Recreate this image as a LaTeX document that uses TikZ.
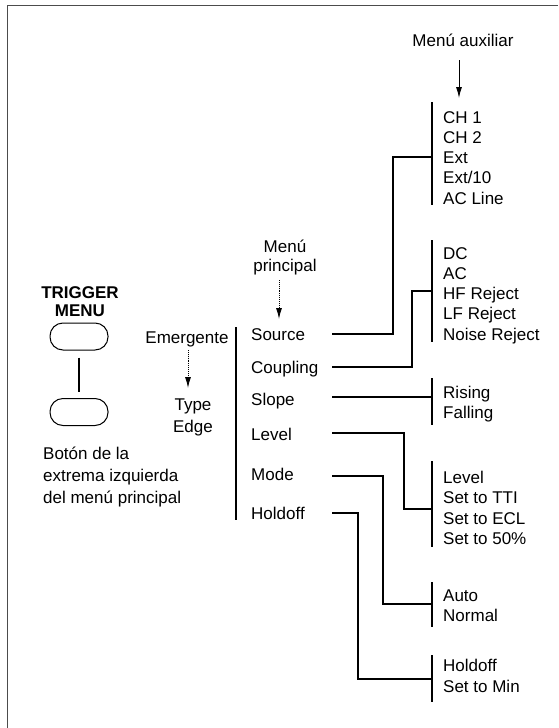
\documentclass[tikz,border=0pt]{standalone}
\usepackage{fontspec}
\setmainfont{Liberation Sans}
\usetikzlibrary{arrows.meta}
\begin{document}
\begin{tikzpicture}[x=1pt,y=-1pt,
  txt/.style={font=\fontsize{17}{20}\selectfont, inner sep=0pt, anchor=base west},
  ctxt/.style={font=\fontsize{17}{20}\selectfont, inner sep=0pt, anchor=base},
  btxt/.style={font=\fontsize{17}{18}\bfseries\selectfont, inner sep=0pt, anchor=base},
  bar/.style={line width=2pt},
  conn/.style={line width=2pt, line join=miter},
  ptr/.style={line width=0.9pt, -{Latex[length=11pt,width=6pt]}},
  dptr/.style={ptr, densely dotted},
  btn/.style={draw, line width=1pt, rounded corners=13pt, minimum width=58pt, minimum height=27pt, inner sep=0pt},
  frame/.style={line width=0.8pt, black!70}
]
\useasboundingbox (0,0) rectangle (558,728);
\draw[frame] (558,5) -- (7,5) -- (7,728);

% left: trigger menu button
\node[btxt] (trg) at (80,298) {TRIGGER};
\node[btxt] (mnu) at (80,316) {MENU};
\node[btn] (b1) at (79,336.5) {};
\node[btn] (b2) at (79,412) {};
\draw[line width=1.6pt, shorten <=7pt, shorten >=6pt] (b1.south) -- (b2.north);
\node[txt] (bt1) at (43,459) {Botón de la};
\node[txt] (bt2) at (43,481) {extrema izquierda};
\node[txt] (bt3) at (43,503) {del menú principal};

% emergente
\node[ctxt] (em) at (187,343) {Emergente};
\node[ctxt] (ty) at (193,410) {Type};
\node[ctxt] (ed) at (193,432) {Edge};
\coordinate (emA) at (188,350);
\coordinate (emB) at (188,388);
\draw[dptr] (emA) -- (emB);

% main menu
\node[ctxt] (mp1) at (285,252) {Menú};
\node[ctxt] (mp2) at (285,271) {principal};
\coordinate (mpA) at (279,280);
\coordinate (mpB) at (279,319);
\draw[dptr] (mpA) -- (mpB);
\coordinate (mbT) at (236,327);
\coordinate (mbB) at (236,520);
\draw[bar] (mbT) -- (mbB);
\node[txt] (src) at (251,340) {Source};
\node[txt] (cpl) at (251,373) {Coupling};
\node[txt] (slp) at (251,405) {Slope};
\node[txt] (lvl) at (251,440) {Level};
\node[txt] (mde) at (251,480) {Mode};
\node[txt] (hld) at (251,519) {Holdoff};

% auxiliary label
\node[ctxt] (ma) at (463,46) {Menú auxiliar};
\coordinate (maA) at (459,60);
\coordinate (maB) at (459,98);
\draw[ptr] (maA) -- (maB);

% aux menu A (source)
\draw[bar] (432,102) -- (432,205);
\node[txt] (a1) at (443,123) {CH 1};
\node[txt] (a2) at (443,143.25) {CH 2};
\node[txt] (a3) at (443,163.5) {Ext};
\node[txt] (a4) at (443,183.75) {Ext/10};
\node[txt] (a5) at (443,204) {AC Line};

% aux menu B (coupling)
\draw[bar] (432,240) -- (432,342);
\node[txt] (c1) at (443,259) {DC};
\node[txt] (c2) at (443,279.25) {AC};
\node[txt] (c3) at (443,299.5) {HF Reject};
\node[txt] (c4) at (443,319.75) {LF Reject};
\node[txt] (c5) at (443,340) {Noise Reject};

% aux menu C (slope)
\draw[bar] (432,378) -- (432,425);
\node[txt] (s1) at (443,398) {Rising};
\node[txt] (s2) at (443,418.5) {Falling};

% aux menu D (level)
\draw[bar] (432,461) -- (432,547);
\node[txt] (l1) at (443,483) {Level};
\node[txt] (l2) at (443,503.5) {Set to TTI};
\node[txt] (l3) at (443,524) {Set to ECL};
\node[txt] (l4) at (443,544.5) {Set to 50\%};

% aux menu E (mode)
\draw[bar] (432,582) -- (432,627);
\node[txt] (m1) at (443,601) {Auto};
\node[txt] (m2) at (443,621.5) {Normal};

% aux menu F (holdoff)
\draw[bar] (432,655) -- (432,702);
\node[txt] (h1) at (443,671) {Holdoff};
\node[txt] (h2) at (443,692) {Set to Min};

% connectors
\coordinate (oS) at (332,334);   \coordinate (kS) at (393,157);  \coordinate (jS) at (432,157);
\coordinate (oC) at (332,367);   \coordinate (kC) at (412,291);  \coordinate (jC) at (432,291);
\coordinate (oL) at (332,397);   \coordinate (jL) at (432,397);
\coordinate (oV) at (332,433);   \coordinate (kV) at (404,509);  \coordinate (jV) at (432,509);
\coordinate (oM) at (332,476);   \coordinate (kM) at (383,604);  \coordinate (jM) at (432,604);
\coordinate (oH) at (332,513);   \coordinate (kH) at (358,679);  \coordinate (jH) at (432,679);
\draw[conn] (oS) -| (kS) -- (jS);
\draw[conn] (oC) -| (kC) -- (jC);
\draw[conn] (oL) -- (jL);
\draw[conn] (oV) -| (kV) -- (jV);
\draw[conn] (oM) -| (kM) -- (jM);
\draw[conn] (oH) -| (kH) -- (jH);
\end{tikzpicture}
\end{document}
